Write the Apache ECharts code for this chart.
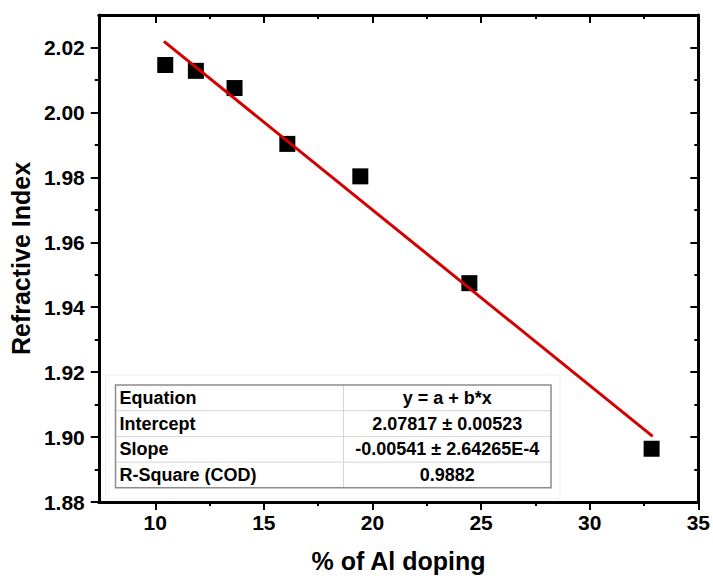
<!DOCTYPE html>
<html>
<head>
<meta charset="utf-8">
<script src="https://cdn.jsdelivr.net/npm/echarts@6/dist/echarts.min.js"></script>
<style>
html,body{margin:0;padding:0;background:#fff;}
#chart{width:713px;height:578px;}
</style>
</head>
<body>
<div id="chart"></div>
<script>
// ---- data ----
const dopingPct = [10.46, 11.87, 13.65, 16.08, 19.44, 24.46, 32.85];
const refractiveIndex = [2.0146, 2.0128, 2.0075, 1.9903, 1.9803, 1.9474, 1.8964];
const fitX = [10.4, 32.9];
const fitY = [2.0219, 1.9002];
const xTickValues = [10, 15, 20, 25, 30, 35];
const xMinorValues = [12.5, 17.5, 22.5, 27.5, 32.5];
const yTickValues = [1.88, 1.90, 1.92, 1.94, 1.96, 1.98, 2.00, 2.02];
const yMinorValues = [1.89, 1.91, 1.93, 1.95, 1.97, 1.99, 2.01];
const tableLabels = ['Equation', 'Intercept', 'Slope', 'R-Square (COD)'];
const tableValues = ['y = a + b*x', '2.07817 \u00b1 0.00523', '-0.00541 \u00b1 2.64265E-4', '0.9882'];
const xTitle = '% of Al doping';
const yTitle = 'Refractive Index';

const FONT = '"Liberation Sans", Arial, sans-serif';
const X_MIN = 7.4, X_MAX = 35, Y_MIN = 1.88, Y_MAX = 2.03;

const chart = echarts.init(document.getElementById('chart'), null, {renderer: 'svg'});

function xAx(pos, ticks, len, inside, withLine, withLabel) {
  return {
    type: 'value', position: pos, min: X_MIN, max: X_MAX,
    axisLine: {show: withLine, onZero: false, lineStyle: {color: '#000', width: 3}},
    axisTick: {show: true, inside: inside, length: len, customValues: ticks, lineStyle: {color: '#000', width: 2}},
    axisLabel: withLabel ? {show: true, customValues: ticks, margin: 10, color: '#000',
      fontFamily: FONT, fontWeight: 'bold', fontSize: 21} : {show: false},
    splitLine: {show: false}
  };
}
function yAx(pos, ticks, len, inside, withLine, withLabel) {
  return {
    type: 'value', position: pos, min: Y_MIN, max: Y_MAX,
    axisLine: {show: withLine, onZero: false, lineStyle: {color: '#000', width: 3}},
    axisTick: {show: true, inside: inside, length: len, customValues: ticks, lineStyle: {color: '#000', width: 2}},
    axisLabel: withLabel ? {show: true, customValues: ticks, margin: 14, color: '#000',
      fontFamily: FONT, fontWeight: 'bold', fontSize: 21,
      formatter: v => Number(v).toFixed(2)} : {show: false},
    splitLine: {show: false}
  };
}

const xAxes = [
  xAx('bottom', xTickValues, 8, false, true, true),
  xAx('bottom', xMinorValues, 4, false, false, false),
  xAx('top', xTickValues, 8, true, true, false),
  xAx('top', xMinorValues, 4, true, false, false)
];
Object.assign(xAxes[0], {name: xTitle, nameLocation: 'middle', nameGap: 46,
  nameTextStyle: {color: '#000', fontFamily: FONT, fontWeight: 'bold', fontSize: 25}});

const yAxes = [
  yAx('left', yTickValues, 8, false, true, true),
  yAx('left', yMinorValues, 4, false, false, false),
  yAx('right', yTickValues, 8, true, true, false),
  yAx('right', yMinorValues, 4, true, false, false)
];
Object.assign(yAxes[0], {name: yTitle, nameLocation: 'middle', nameGap: 62,
  nameTextStyle: {color: '#000', fontFamily: FONT, fontWeight: 'bold', fontSize: 25}});

// ---- table graphic (layout only) ----
const T_LEFT = 113, T_TOP = 382.5, T_W = 435.5, T_COL = 228, T_ROW = 25.7;
const tableChildren = [];
tableChildren.push({type: 'rect', shape: {x: -10, y: -10, width: T_W + 19, height: T_ROW * 4 + 21},
  style: {fill: 'none', stroke: '#eeeeee', lineWidth: 1}});
tableChildren.push({type: 'rect', shape: {x: 0, y: 0, width: T_W, height: T_ROW * 4},
  style: {fill: '#fff', stroke: 'none'}});
for (let i = 1; i < 4; i++) {
  tableChildren.push({type: 'line', shape: {x1: 0, y1: i * T_ROW, x2: T_W, y2: i * T_ROW},
    style: {stroke: '#d4d4d4', lineWidth: 1}});
}
tableChildren.push({type: 'line', shape: {x1: T_COL, y1: 0, x2: T_COL, y2: T_ROW * 4},
  style: {stroke: '#d4d4d4', lineWidth: 1}});
tableChildren.push({type: 'rect', shape: {x: 0, y: 0, width: T_W, height: T_ROW * 4},
  style: {fill: 'none', stroke: '#8c8c8c', lineWidth: 1.5}});
tableLabels.forEach((t, i) => {
  tableChildren.push({type: 'text', x: 4, y: i * T_ROW + T_ROW / 2,
    style: {text: t, fill: '#000', font: 'bold 18px ' + FONT, textAlign: 'left', textVerticalAlign: 'middle'}});
});
tableValues.forEach((t, i) => {
  tableChildren.push({type: 'text', x: T_COL + (T_W - T_COL) / 2, y: i * T_ROW + T_ROW / 2,
    style: {text: t, fill: '#000', font: 'bold 18px ' + FONT, textAlign: 'center', textVerticalAlign: 'middle'}});
});

const option = {
  animation: false,
  backgroundColor: '#fff',
  grid: {left: 97, right: 12, top: 15, bottom: 76, containLabel: false},
  xAxis: xAxes,
  yAxis: yAxes,
  series: [
    {
      type: 'scatter', xAxisIndex: 0, yAxisIndex: 0,
      symbol: 'rect', symbolSize: 16,
      itemStyle: {color: '#000', opacity: 1},
      data: dopingPct.map((x, i) => [x, refractiveIndex[i]]),
      z: 2
    },
    {
      type: 'line', xAxisIndex: 0, yAxisIndex: 0,
      symbol: 'none', lineStyle: {color: '#d40000', width: 3},
      data: fitX.map((x, i) => [x, fitY[i]]),
      z: 3
    }
  ],
  graphic: [{type: 'group', left: T_LEFT - 10, top: T_TOP - 10, children: tableChildren, z: 10}]
};
chart.setOption(option);
</script>
</body>
</html>
